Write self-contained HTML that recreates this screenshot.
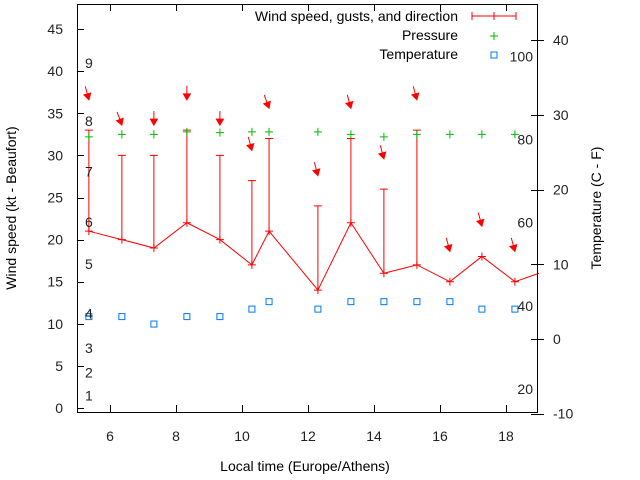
<!DOCTYPE html>
<html><head><meta charset="utf-8"><style>
body{margin:0;background:#fff}
svg{display:block;font-family:"Liberation Sans",sans-serif}
</style></head><body>
<svg id="chart" width="640" height="480" viewBox="0 0 640 480">
<rect x="0" y="0" width="640" height="480" fill="#fff"/>
<g id="marks"></g>
<rect x="77.5" y="4.5" width="460" height="408" fill="none" stroke="#000"/>
<g id="axes" font-size="14" fill="#222"></g>
<text x="16" y="208" transform="rotate(-90 16 208)" text-anchor="middle" font-size="14">Wind speed (kt - Beaufort)</text>
<text x="601" y="208" transform="rotate(-90 601 208)" text-anchor="middle" font-size="14">Temperature (C - F)</text>
<text x="305" y="471" text-anchor="middle" font-size="14">Local time (Europe/Athens)</text>
<g font-size="14">
<g>
<text x="458" y="21" text-anchor="end">Wind speed, gusts, and direction</text>
<path d="M472 16H516M472 12V20M516 12V20M494 12V20" stroke="red" stroke-width="1"/>
</g>
<g>
<text x="458" y="40" text-anchor="end">Pressure</text>
<path d="M490 36H498M494 32V40" stroke="#0b0"/>
</g>
<g>
<text x="458" y="59" text-anchor="end">Temperature</text>
<rect x="491" y="52" width="6" height="6" fill="none" stroke="#07f"/>
</g>
</g>
</svg>
<script>
const times=[5.36,6.36,7.33,8.33,9.33,10.3,10.82,12.3,13.3,14.3,15.3,16.3,17.27,18.27,19];
const speeds=[21,20,19,22,20,17,21,14,22,16,17,15,18,15,16];
const gusts=[33,30,30,33,30,27,32,24,32,26,33,null,null,null,null];
const dirs=[165,160,180,180,180,165,160,165,165,165,165,165,165,165,null];
const pressure=[32.2,32.5,32.5,32.8,32.7,32.8,32.8,32.8,32.5,32.2,32.5,32.5,32.5,32.5];
const temps=[3,3,2,3,3,4,5,4,5,5,5,5,4,4];
const xTicks=[6,8,10,12,14,16,18];
const yTicks=[0,5,10,15,20,25,30,35,40,45];
const y2Ticks=[-10,0,10,20,30,40];
const beaufort=[[1,1.5],[2,4.2],[3,7.1],[4,11.2],[5,17.1],[6,22.1],[7,28.1],[8,34.1],[9,41]];
const fahr=[[20,-6.7],[40,4.4],[60,15.6],[80,26.7],[100,37.8]];
const NS="http://www.w3.org/2000/svg";
const X=t=>77+(t-5)*33;
const Y=v=>408-v*8.42;
const Y2=c=>339-c*7.47;
function mk(tag,attrs,parent){const e=document.createElementNS(NS,tag);for(const k in attrs)e.setAttribute(k,attrs[k]);parent.appendChild(e);return e;}
const marks=document.getElementById('marks'),axes=document.getElementById('axes');
xTicks.forEach(t=>{const x=X(t)+0.5;
mk('path',{d:`M${x} 412V405M${x} 4V11`,stroke:'#000'},axes);
const tx=mk('text',{x:X(t),y:441,'text-anchor':'middle'},axes);tx.textContent=t;

});
yTicks.forEach(v=>{const y=Math.round(Y(v))+0.5;
mk('path',{d:`M77 ${y}H84`,stroke:'#000'},axes);
const tx=mk('text',{x:63,y:Y(v)+5,'text-anchor':'end'},axes);tx.textContent=v;

});
y2Ticks.forEach(v=>{const y=Math.round(Y2(v))+0.5;
mk('path',{d:`M531 ${y}H544`,stroke:'#000'},axes);
const tx=mk('text',{x:553,y:Y2(v)+5},axes);tx.textContent=v;

});
beaufort.forEach(([b,v])=>{const tx=mk('text',{x:85,y:Y(v)+5},axes);tx.textContent=b;

});
fahr.forEach(([f,c])=>{const tx=mk('text',{x:533,y:Y2(c)+5,'text-anchor':'end'},axes);tx.textContent=f;

});
const line=mk('polyline',{points:times.map((t,i)=>X(t)+','+Y(speeds[i])).join(' '),fill:'none',stroke:'red','stroke-width':1},marks);


times.forEach((t,i)=>{const x=X(t),y=Y(speeds[i]);
if(i<times.length-1){const p=mk('path',{d:`M${x-4} ${y}H${x+4}M${x} ${y-4}V${y+4}`,stroke:'red'},marks);

}
if(gusts[i]!=null){const g=Y(gusts[i]);const e=mk('path',{d:`M${x} ${y}V${g}M${x-4} ${g}H${x+4}`,stroke:'red'},marks);

}
if(dirs[i]!=null){const top=Math.max(speeds[i],gusts[i]||0)+3.6;const ty=Y(top);
const a=(dirs[i]-180)*Math.PI/180;
const dx=Math.sin(-a),dy=Math.cos(a);
const L=14,tx0=x,ty0=ty,sx=tx0-dx*L,sy=ty0-dy*L;
const g=mk('g',{},marks);


mk('line',{x1:sx,y1:sy,x2:tx0,y2:ty0,stroke:'red'},g);
const bx=tx0-dx*6,by=ty0-dy*6,px=-dy,py=dx;
mk('polygon',{points:`${tx0},${ty0} ${bx+px*3.5},${by+py*3.5} ${bx-px*3.5},${by-py*3.5}`,fill:'red',stroke:'red'},g);}
});
pressure.forEach((p,i)=>{const x=X(times[i]),y=Y(p);
const m=mk('path',{d:`M${x-4} ${y}H${x+4}M${x} ${y-4}V${y+4}`,stroke:'#0b0'},marks);

});
temps.forEach((c,i)=>{const x=X(times[i]),y=Y2(c);
const r=mk('rect',{x:x-3,y:y-3,width:6,height:6,fill:'none',stroke:'#07f'},marks);

});
</script>
</body></html>
